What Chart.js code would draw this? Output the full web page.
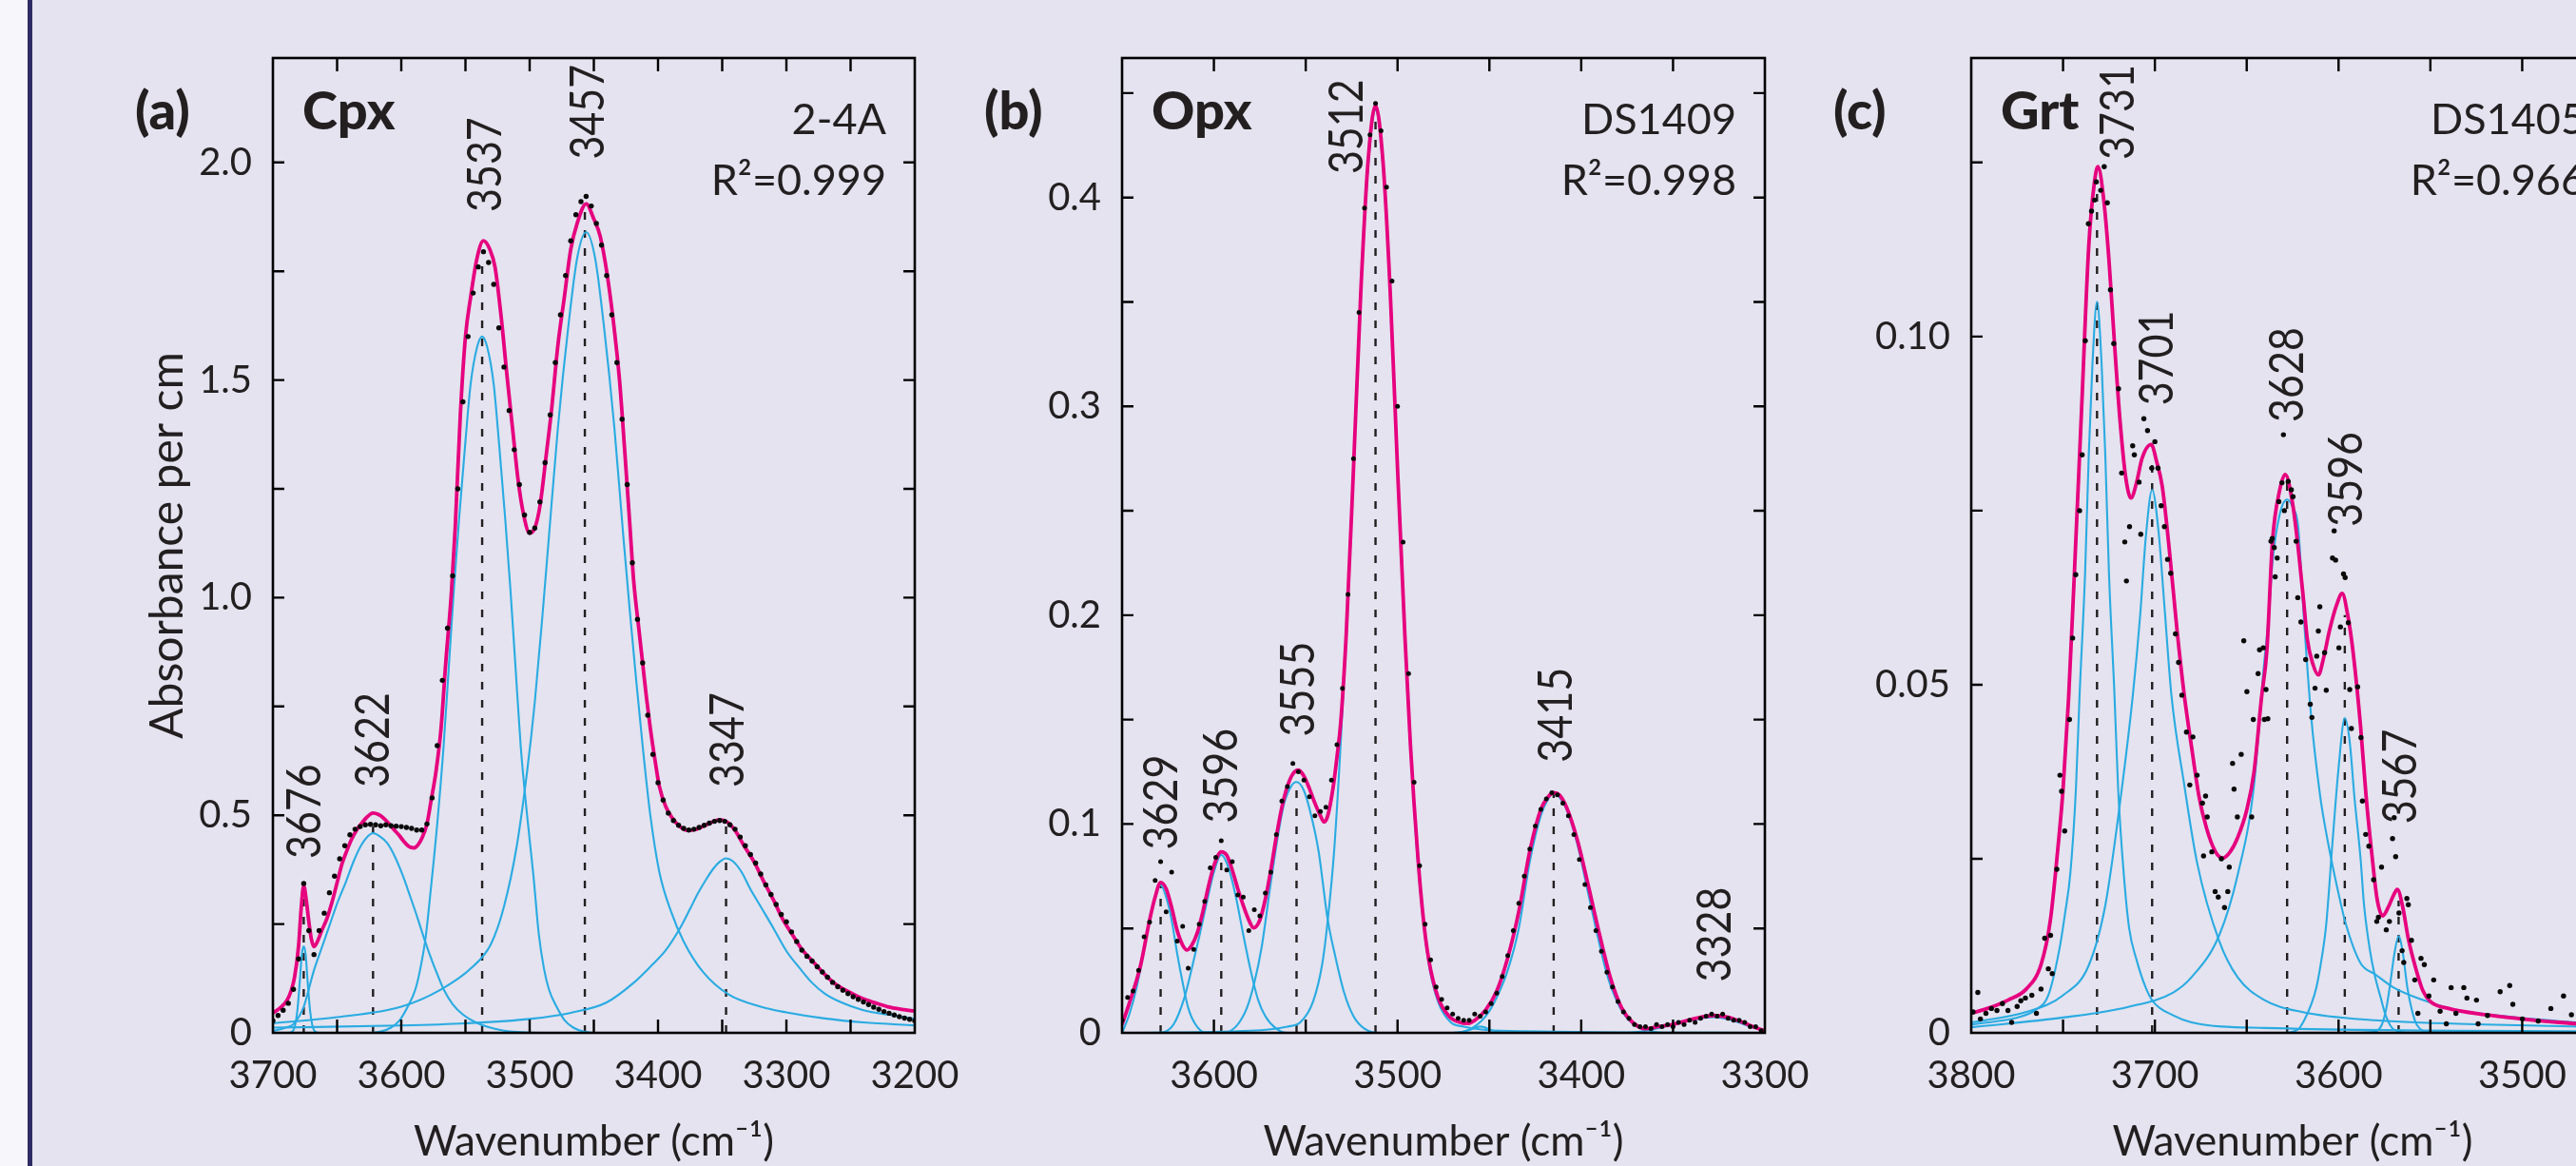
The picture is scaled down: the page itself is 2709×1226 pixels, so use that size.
<!DOCTYPE html>
<html>
<head>
<meta charset="utf-8">
<script src="https://cdn.jsdelivr.net/npm/chart.js@4.4.1/dist/chart.umd.min.js"></script>
<style>
html, body { margin: 0; padding: 0; }
body { width: 2709px; height: 1226px; overflow: hidden; position: relative; background: #e4e3ef; }
#strip { position: absolute; left: 0; top: 0; width: 29px; height: 1226px; background: #f7f7fb; }
#rule { position: absolute; left: 29px; top: 0; width: 5px; height: 1226px; background: #2f2b62; }
canvas { position: absolute; top: 0; }
</style>
</head>
<body>
<div id="strip"></div>
<div id="rule"></div>
<canvas id="cpxChart" width="955" height="1226" style="left:87px"></canvas>
<canvas id="opxChart" width="956" height="1226" style="left:980px"></canvas>
<canvas id="grtChart" width="956" height="1226" style="left:1873px"></canvas>
<script>
// ---------- (a) Cpx, sample 2-4A ----------
const cpxXTicks = [3700, 3600, 3500, 3400, 3300, 3200];
const cpxXMarks = [3650, 3600, 3550, 3500, 3450, 3400, 3350, 3300, 3250];
const cpxYTicks = [0, 0.5, 1.0, 1.5, 2.0];
const cpxYLabels = ['0', '0.5', '1.0', '1.5', '2.0'];
const cpxYMarks = [0.25, 0.5, 0.75, 1.0, 1.25, 1.5, 1.75, 2.0];

const cpxMeasured = [
  [3700,0.028],[3696,0.040],[3692,0.052],[3688,0.068],[3684,0.10],[3680,0.17],[3676,0.343],[3672,0.235],
  [3668,0.180],[3664,0.235],[3660,0.275],[3656,0.322],[3652,0.36],[3648,0.40],[3644,0.43],[3640,0.455],
  [3636,0.468],[3632,0.474],[3628,0.478],[3624,0.479],[3620,0.478],[3616,0.476],[3612,0.478],[3608,0.476],
  [3604,0.475],[3600,0.474],[3596,0.472],[3592,0.470],[3588,0.466],[3584,0.466],[3580,0.48],[3576,0.54],
  [3572,0.66],[3568,0.81],[3564,0.93],[3560,1.05],[3556,1.25],[3552,1.45],[3548,1.60],[3544,1.70],
  [3540,1.76],[3536,1.795],[3532,1.77],[3528,1.72],[3524,1.62],[3520,1.53],[3516,1.43],[3512,1.34],
  [3508,1.26],[3504,1.19],[3500,1.15],[3496,1.16],[3492,1.22],[3488,1.31],[3484,1.42],[3480,1.54],
  [3476,1.65],[3472,1.74],[3468,1.82],[3464,1.88],[3460,1.91],[3456,1.922],[3452,1.90],[3448,1.86],
  [3444,1.81],[3440,1.74],[3436,1.65],[3432,1.54],[3428,1.41],[3424,1.26],[3420,1.08],[3416,0.95],
  [3412,0.85],[3408,0.73],[3404,0.64],[3400,0.575],[3396,0.535],[3392,0.505],[3388,0.488],[3384,0.477],
  [3380,0.470],[3376,0.466],[3372,0.468],[3368,0.472],[3364,0.477],[3360,0.482],[3356,0.486],[3352,0.488],
  [3348,0.486],[3344,0.478],[3340,0.468],[3336,0.45],[3332,0.43],[3328,0.41],[3324,0.39],[3320,0.365],
  [3316,0.34],[3312,0.318],[3308,0.295],[3304,0.272],[3300,0.255],[3296,0.232],[3292,0.21],[3288,0.19],
  [3284,0.176],[3280,0.165],[3276,0.152],[3272,0.14],[3268,0.128],[3264,0.116],[3260,0.106],[3256,0.098],
  [3252,0.09],[3248,0.083],[3244,0.077],[3240,0.071],[3236,0.065],[3232,0.059],[3228,0.054],[3224,0.049],
  [3220,0.045],[3216,0.041],[3212,0.037],[3208,0.034],[3204,0.031],[3200,0.028]
];
const cpxFit = [
  [3700,0.046],[3694,0.058],[3689,0.075],[3686,0.095],[3683,0.13],[3680,0.20],[3678,0.285],[3676,0.338],
  [3674,0.305],[3672,0.255],[3670,0.215],[3668,0.198],[3665,0.212],[3662,0.235],[3658,0.262],[3654,0.30],
  [3650,0.345],[3646,0.39],[3643,0.414],[3639,0.443],[3635,0.465],[3631,0.481],[3627,0.495],[3622,0.505],
  [3618,0.502],[3614,0.494],[3610,0.482],[3606,0.468],[3602,0.455],[3598,0.44],[3594,0.428],[3590,0.425],
  [3587,0.432],[3584,0.447],[3580,0.48],[3577,0.53],[3573,0.60],[3569,0.70],[3565.5,0.845],[3561,1.01],
  [3558,1.16],[3554,1.42],[3550,1.60],[3546,1.69],[3541,1.78],[3536,1.82],[3531,1.80],[3527,1.76],
  [3522,1.64],[3518,1.52],[3513,1.38],[3509,1.27],[3505,1.195],[3500,1.148],[3496,1.16],[3492,1.21],
  [3487,1.33],[3483,1.43],[3478,1.58],[3473,1.69],[3468,1.80],[3463,1.86],[3456,1.905],[3450,1.87],
  [3445,1.83],[3440,1.75],[3435,1.64],[3430,1.50],[3426,1.34],[3422,1.17],[3419,1.04],[3415,0.93],
  [3412,0.85],[3409,0.77],[3406,0.70],[3402,0.62],[3399,0.567],[3394,0.52],[3389,0.494],[3383,0.474],
  [3377,0.465],[3370,0.468],[3364,0.476],[3358,0.484],[3352,0.49],[3346,0.484],[3340,0.465],[3333,0.43],
  [3325,0.392],[3318,0.35],[3310,0.305],[3303,0.262],[3295,0.224],[3288,0.192],[3280,0.166],[3272,0.14],
  [3263,0.115],[3252,0.095],[3241,0.079],[3230,0.068],[3221,0.060],[3210,0.054],[3200,0.050]
];
const cpx3676 = [[3700,0],[3688,0],[3684,0.006],[3681,0.05],[3679,0.12],[3677.5,0.18],[3676,0.199],[3674.5,0.18],[3673,0.12],[3671,0.05],[3668,0.006],[3664,0],[3200,0]];
const cpx3622 = [[3700,0.004],[3690,0.012],[3684,0.020],[3676,0.06],[3668,0.144],[3662,0.195],[3656,0.246],[3650,0.297],[3643,0.348],[3637,0.395],[3631,0.432],[3626,0.452],[3622,0.459],[3617,0.452],[3611,0.436],[3605,0.405],[3599,0.363],[3593,0.313],[3587,0.261],[3582,0.215],[3577,0.173],[3572,0.135],[3567,0.100],[3560,0.066],[3552,0.042],[3542,0.024],[3532,0.013],[3520,0.005],[3510,0.002],[3490,0],[3200,0]];
const cpx3537 = [[3700,0],[3624,0],[3616,0.003],[3608,0.012],[3601,0.03],[3595,0.06],[3589,0.10],[3585,0.15],[3581,0.22],[3577,0.33],[3572,0.48],[3567,0.66],[3563,0.84],[3559,1.02],[3555,1.18],[3550,1.36],[3546,1.49],[3541,1.575],[3537,1.60],[3533,1.575],[3528,1.49],[3524,1.36],[3519,1.18],[3515,1.02],[3511,0.84],[3507,0.66],[3502,0.50],[3497,0.36],[3493,0.23],[3489,0.15],[3485,0.10],[3479,0.06],[3473,0.03],[3466,0.012],[3458,0.003],[3450,0],[3200,0]];
const cpx3457 = [[3700,0.022],[3650,0.036],[3600,0.060],[3570,0.098],[3545,0.15],[3530,0.205],[3520,0.29],[3510,0.43],[3502,0.60],[3496,0.76],[3490,0.96],[3485,1.14],[3478,1.39],[3470,1.62],[3463,1.78],[3456,1.84],[3449,1.78],[3442,1.62],[3434,1.39],[3427,1.14],[3422,0.97],[3417,0.81],[3412,0.66],[3406,0.50],[3399,0.37],[3390,0.28],[3380,0.21],[3365,0.14],[3345,0.088],[3320,0.06],[3300,0.047],[3270,0.033],[3240,0.024],[3200,0.017]];
const cpx3347 = [[3700,0.012],[3600,0.017],[3550,0.022],[3500,0.032],[3468,0.046],[3440,0.07],[3419,0.115],[3405,0.155],[3394,0.19],[3383,0.24],[3375,0.285],[3369,0.32],[3362,0.355],[3357,0.377],[3352,0.393],[3347,0.401],[3342,0.395],[3335,0.37],[3328,0.33],[3320,0.29],[3310,0.24],[3300,0.188],[3290,0.15],[3280,0.115],[3270,0.09],[3258,0.071],[3240,0.052],[3221,0.042],[3200,0.032]];

const cpxPeakLabels = ['3676', '3622', '3537', '3457', '3347'];
const cpxLabelWn = [3676, 3622.4, 3535.7, 3455.6, 3346.7];
const cpxLabelBase = [0.40, 0.564, 1.886, 2.007, 0.564];
const cpxDashWn = [3676, 3622, 3537, 3457, 3347];
const cpxDashTop = [0.34, 0.48, 1.78, 1.90, 0.48];

// ---------- (b) Opx, sample DS1409 ----------
const opxXTicks = [3600, 3500, 3400, 3300];
const opxXMarks = [3600, 3550, 3500, 3450, 3400, 3350];
const opxYTicks = [0, 0.1, 0.2, 0.3, 0.4];
const opxYLabels = ['0', '0.1', '0.2', '0.3', '0.4'];
const opxYMarks = [0.05, 0.1, 0.15, 0.2, 0.25, 0.3, 0.35, 0.4, 0.45];

const opxMeasured = [
  [3650,0.006],[3647,0.017],[3644,0.020],[3641,0.030],[3638,0.046],[3635,0.053],[3632,0.073],[3629,0.082],
  [3626,0.058],[3623,0.077],[3620,0.044],[3617,0.051],[3614,0.031],[3611,0.040],[3608,0.052],[3605,0.063],
  [3602,0.079],[3599,0.084],[3596,0.092],[3593,0.078],[3590,0.082],[3587,0.066],[3584,0.065],[3581,0.049],
  [3578,0.059],[3575,0.056],[3572,0.067],[3569,0.077],[3566,0.095],[3563,0.111],[3560,0.118],[3557,0.129],
  [3554,0.125],[3551,0.121],[3548,0.113],[3545,0.104],[3542,0.106],[3539,0.108],[3536,0.121],[3533,0.138],
  [3530,0.165],[3527,0.21],[3524,0.275],[3521,0.345],[3518,0.395],[3515,0.43],[3512,0.445],[3509,0.432],
  [3506,0.405],[3503,0.36],[3500,0.30],[3497,0.235],[3494,0.172],[3491,0.12],[3488,0.08],[3485,0.052],
  [3482,0.035],[3479,0.022],[3476,0.016],[3473,0.012],[3470,0.009],[3467,0.007],[3464,0.006],[3461,0.006],
  [3458,0.009],[3455,0.008],[3452,0.010],[3449,0.014],[3446,0.019],[3443,0.027],[3440,0.037],[3437,0.049],
  [3434,0.062],[3431,0.075],[3428,0.088],[3425,0.099],[3422,0.107],[3419,0.112],[3416,0.115],[3413,0.114],
  [3410,0.110],[3407,0.104],[3404,0.095],[3401,0.083],[3398,0.071],[3395,0.060],[3392,0.049],[3389,0.039],
  [3386,0.029],[3383,0.022],[3380,0.015],[3377,0.010],[3374,0.007],[3371,0.004],[3368,0.003],[3365,0.003],
  [3362,0.002],[3359,0.004],[3356,0.003],[3353,0.004],[3350,0.003],[3347,0.005],[3344,0.004],[3341,0.006],
  [3338,0.005],[3335,0.007],[3332,0.008],[3329,0.009],[3326,0.008],[3323,0.009],[3320,0.007],[3317,0.006],
  [3314,0.006],[3311,0.005],[3308,0.003],[3305,0.003],[3302,0.001]
];
const opxFit = [
  [3650,0.004],[3645,0.017],[3640,0.032],[3635,0.054],[3632,0.065],[3629,0.072],[3626,0.069],[3623,0.060],
  [3620,0.049],[3617,0.042],[3614.6,0.0397],[3612,0.042],[3609,0.048],[3606,0.058],[3603,0.07],[3600,0.080],
  [3596,0.0867],[3593,0.085],[3590,0.078],[3587,0.069],[3584,0.061],[3581,0.054],[3578.4,0.0503],[3575,0.054],
  [3572,0.064],[3569,0.078],[3566,0.094],[3563,0.108],[3560,0.118],[3557,0.124],[3554,0.1258],[3551,0.123],
  [3548,0.117],[3545,0.11],[3542,0.104],[3540,0.101],[3538,0.104],[3535,0.118],[3533,0.132],[3531,0.148],
  [3528,0.19],[3524,0.27],[3520,0.355],[3516,0.418],[3512,0.444],[3508,0.418],[3504,0.355],[3500,0.27],
  [3496,0.19],[3493,0.138],[3489,0.085],[3486,0.055],[3483,0.035],[3478,0.017],[3472,0.008],[3466,0.005],
  [3462,0.0045],[3458,0.006],[3452,0.011],[3446,0.02],[3440,0.036],[3434,0.058],[3428,0.087],[3422,0.107],
  [3418,0.113],[3415,0.115],[3412,0.114],[3408,0.108],[3402,0.092],[3396,0.07],[3390,0.047],[3384,0.026],
  [3378,0.012],[3372,0.005],[3365,0.002],[3358,0.003],[3350,0.004],[3342,0.006],[3335,0.0075],[3328,0.0083],
  [3320,0.0075],[3312,0.005],[3305,0.0025],[3300,0.001]
];
const opx3629 = [[3650,0],[3646,0.009],[3642,0.022],[3638,0.04],[3635,0.054],[3632,0.065],[3629,0.0708],[3626,0.065],[3623,0.054],[3620,0.038],[3617,0.024],[3614,0.012],[3610,0.004],[3604,0],[3300,0]];
const opx3596 = [[3650,0],[3630,0],[3622,0.004],[3616,0.017],[3612,0.031],[3608,0.046],[3604,0.062],[3600,0.077],[3596,0.0852],[3592,0.079],[3588,0.065],[3584,0.047],[3580,0.030],[3576,0.016],[3572,0.008],[3566,0.002],[3560,0],[3300,0]];
const opx3555 = [[3650,0],[3595,0],[3588,0.003],[3582,0.012],[3578,0.024],[3574,0.041],[3569,0.072],[3565,0.095],[3562,0.109],[3558,0.118],[3555,0.1201],[3551,0.116],[3547,0.104],[3543,0.087],[3538,0.054],[3534,0.037],[3529,0.019],[3524,0.008],[3518,0.002],[3510,0],[3300,0]];
const opx3512 = [[3650,0],[3580,0.001],[3560,0.003],[3553,0.005],[3546,0.015],[3541,0.033],[3538,0.054],[3534.5,0.0875],[3531,0.138],[3528,0.19],[3524,0.27],[3520,0.355],[3516,0.415],[3512,0.442],[3508,0.415],[3504,0.355],[3500,0.27],[3496,0.19],[3493,0.138],[3489.5,0.0875],[3486,0.054],[3483,0.033],[3478,0.015],[3471,0.005],[3464,0.003],[3444,0.001],[3300,0]];
const opx3455 = [[3650,0],[3470,0],[3462,0.001],[3455,0.003],[3448,0.001],[3440,0],[3300,0]];
const opx3415 = [[3650,0],[3470,0],[3460,0.002],[3452,0.008],[3446,0.017],[3440,0.03],[3434,0.05],[3428,0.082],[3422,0.104],[3418,0.112],[3415,0.1151],[3412,0.113],[3408,0.107],[3402,0.09],[3396,0.066],[3392,0.05],[3386,0.028],[3380,0.014],[3374,0.006],[3366,0.002],[3355,0],[3300,0]];
const opx3328 = [[3650,0],[3375,0],[3362,0.0015],[3350,0.004],[3340,0.006],[3328,0.0075],[3318,0.006],[3308,0.003],[3300,0.001]];

const opxPeakLabels = ['3629', '3596', '3555', '3512', '3415', '3328'];
const opxLabelWn = [3629, 3596.4, 3554.8, 3528.3, 3414.2, 3327.6];
const opxLabelBase = [0.0877, 0.1004, 0.1419, 0.4112, 0.1295, 0.0244];
const opxDashWn = [3629, 3596, 3555, 3512, 3415];
const opxDashTop = [0.072, 0.085, 0.119, 0.442, 0.115];

// ---------- (c) Grt, sample DS1405 ----------
const grtXTicks = [3800, 3700, 3600, 3500];
const grtXMarks = [3750, 3700, 3650, 3600, 3550, 3500];
const grtYTicks = [0, 0.05, 0.10];
const grtYLabels = ['0', '0.05', '0.10'];
const grtYMarks = [0.025, 0.05, 0.075, 0.1, 0.125];

const grtMeasured = [
  [3799,0.0030],[3796.4,0.0058],[3795,0.0020],[3792,0.0028],[3789,0.0035],[3786,0.0032],[3783,0.0042],[3780,0.0032],
  [3778,0.0015],[3775,0.0038],[3773,0.0046],[3770.5,0.0050],[3767,0.0054],[3764.5,0.0028],[3762,0.0063],[3760,0.0136],
  [3758,0.0092],[3756.8,0.0140],[3755.9,0.0085],[3753.4,0.0235],[3751.7,0.0370],[3750.8,0.0347],[3749.1,0.0290],[3746.5,0.0450],
  [3744.8,0.0567],[3743.1,0.0658],[3741,0.075],[3739.6,0.0830],[3737.9,0.0994],[3736.2,0.1162],[3734.5,0.118],[3732.8,0.1196],
  [3731.9,0.1222],[3729.5,0.121],[3727.6,0.1244],[3725.9,0.1192],[3724.2,0.1067],[3722.4,0.0990],[3719.8,0.0925],[3718.1,0.0804],
  [3716.4,0.0705],[3715.5,0.0649],[3713.8,0.0727],[3712.1,0.0843],[3711.2,0.0830],[3708.6,0.0791],[3707.7,0.0716],[3706,0.0882],
  [3704,0.0865],[3701.7,0.0811],[3700,0.0849],[3698.3,0.0811],[3696.6,0.0757],[3694.8,0.0727],[3693.1,0.0680],[3691.4,0.0660],
  [3688.8,0.0573],[3687.1,0.0532],[3685.3,0.0485],[3682.8,0.0432],[3681,0.0356],[3679.3,0.0425],[3677,0.037],[3674.1,0.0330],
  [3673.5,0.0254],[3672.4,0.0340],[3671.5,0.0310],[3669,0.026],[3667.2,0.0203],[3665.5,0.0195],[3663.8,0.0250],[3662.1,0.0180],
  [3660.3,0.0203],[3659.5,0.0238],[3657.7,0.0387],[3656.9,0.0350],[3655.1,0.0310],[3653,0.040],[3651.6,0.0563],[3649.9,0.0490],
  [3647.3,0.0310],[3646.4,0.0450],[3643.8,0.0516],[3643,0.0550],[3641,0.0553],[3640.4,0.0450],[3639.5,0.0493],[3638.5,0.0451],
  [3636.8,0.0706],[3636.1,0.0710],[3635,0.0697],[3634.5,0.0655],[3633.4,0.0682],[3632.5,0.0763],[3630.8,0.0790],[3630,0.0859],
  [3629.5,0.075],[3627.4,0.0792],[3625.7,0.0780],[3624.8,0.0770],[3623.1,0.0706],[3622.2,0.0625],[3620.5,0.0590],[3617.9,0.0536],
  [3615.4,0.0472],[3614.5,0.0453],[3612.8,0.0495],[3611.9,0.0541],[3611,0.0577],[3610.2,0.0612],[3607.6,0.0546],[3606.7,0.0492],
  [3603.3,0.0682],[3602.4,0.0721],[3601.6,0.0679],[3599.8,0.0553],[3599,0.0583],[3597.3,0.0659],[3596.4,0.0654],[3594.7,0.0589],
  [3593.9,0.0493],[3593,0.0437],[3589.6,0.0497],[3587.8,0.0424],[3587,0.0333],[3585.2,0.0285],[3583.5,0.0268],[3580.9,0.0220],
  [3579.2,0.0160],[3578.3,0.0166],[3576.6,0.0238],[3574,0.0148],[3572.3,0.0160],[3570.6,0.0279],[3569.7,0.0309],[3568.9,0.0253],
  [3567.1,0.0172],[3565.4,0.0118],[3564.5,0.0101],[3562.8,0.0193],[3562,0.0184],[3560.3,0.0133],[3558.5,0.0076],[3556.8,0.0028],
  [3555.1,0.0107],[3553.3,0.0098],[3550.8,0.0053],[3548.2,0.0076],[3544.7,0.0031],[3541.3,0.0013],[3538.7,0.0065],[3536.1,0.0028],
  [3531.8,0.0065],[3530.1,0.0050],[3524.9,0.0047],[3524,0.0013],[3518.9,0.0025],[3512,0.0059],[3506.8,0.0068],[3505.1,0.0041],
  [3499.9,0.0020],[3491.3,0.0017],[3484.4,0.0035],[3477.5,0.0053],[3473.2,0.0026],[3468,0.0040],[3462,0.0015],[3456,0.0030],[3451,0.0022]
];
const grtFit = [
  [3800,0.0028],[3790,0.0036],[3780,0.0047],[3770,0.0063],[3762,0.0098],[3757,0.016],[3753,0.026],[3750,0.035],
  [3747,0.048],[3744,0.065],[3740,0.089],[3736,0.113],[3733,0.122],[3731,0.1244],[3728,0.120],[3725,0.111],
  [3722,0.099],[3719,0.088],[3716,0.080],[3713,0.0768],[3710,0.079],[3707,0.0825],[3702,0.0845],[3699,0.082],
  [3696,0.0785],[3692,0.069],[3688,0.058],[3684,0.0485],[3680,0.041],[3676,0.034],[3672,0.0295],[3667,0.026],
  [3663,0.0251],[3659,0.026],[3655,0.028],[3650,0.032],[3646,0.0375],[3642,0.048],[3639,0.055],[3636,0.0705],
  [3632,0.078],[3629,0.0802],[3625,0.076],[3622,0.0697],[3619,0.062],[3617,0.0565],[3614,0.053],[3611,0.0514],
  [3608,0.054],[3605,0.0577],[3601,0.0615],[3598,0.0631],[3595,0.060],[3592,0.0545],[3588,0.044],[3585,0.034],
  [3582,0.026],[3579,0.0192],[3576,0.0168],[3573,0.0180],[3570,0.0198],[3568,0.0206],[3565,0.018],[3562,0.0135],
  [3558,0.0093],[3554,0.006],[3550,0.0045],[3540,0.0035],[3520,0.0026],[3500,0.002],[3480,0.0015],[3450,0.001]
];
const grt3731 = [[3800,0.0012],[3785,0.0017],[3775,0.0022],[3765,0.0033],[3758,0.0054],[3752,0.012],[3749,0.017],[3746,0.023],[3743,0.035],[3741,0.0485],[3738,0.066],[3736,0.083],[3734,0.096],[3731.5,0.105],[3729,0.096],[3727,0.083],[3725,0.066],[3722,0.0485],[3720,0.035],[3717,0.023],[3714,0.015],[3710,0.0105],[3705,0.0065],[3701,0.0045],[3690,0.0025],[3680,0.0015],[3640,0.0007],[3450,0.0002]];
const grt3701 = [[3800,0.0015],[3770,0.003],[3750,0.0054],[3736,0.0097],[3727,0.0183],[3719,0.033],[3712,0.0485],[3708,0.06],[3705,0.071],[3701.5,0.078],[3698,0.072],[3695,0.062],[3691,0.0485],[3684,0.0356],[3677,0.0244],[3665,0.0132],[3655,0.008],[3641,0.0048],[3620,0.003],[3580,0.0018],[3520,0.0012],[3450,0.0008]];
const grt3628 = [[3800,0.0008],[3750,0.0022],[3715,0.0037],[3690,0.0058],[3680,0.008],[3665,0.014],[3655,0.0226],[3646,0.0356],[3641,0.0517],[3638,0.06],[3636,0.0675],[3632,0.0745],[3628,0.0766],[3625,0.0755],[3622,0.0727],[3619,0.0601],[3615,0.0457],[3610,0.034],[3606,0.0277],[3600,0.02],[3596,0.0156],[3588,0.01],[3580,0.0084],[3570,0.0065],[3555,0.0048],[3535,0.0032],[3520,0.0027],[3490,0.0019],[3471,0.0015],[3450,0.0012]];
const grt3596 = [[3800,0],[3630,0],[3622,0.0005],[3618.7,0.0018],[3615,0.004],[3612,0.0066],[3609,0.011],[3606.7,0.0156],[3603.2,0.0277],[3600,0.038],[3596.6,0.0452],[3594,0.042],[3591.3,0.0337],[3588,0.025],[3586.2,0.0186],[3583,0.012],[3580.4,0.0084],[3577,0.005],[3574.2,0.0024],[3570,0.0005],[3560,0],[3450,0]];
const grt3567 = [[3800,0],[3590,0],[3580,0.0002],[3576.4,0.0012],[3574,0.0035],[3572.1,0.0066],[3569.5,0.0115],[3567.3,0.0139],[3565,0.0115],[3562.6,0.0066],[3560,0.0032],[3557.5,0.0012],[3550,0.0001],[3540,0],[3450,0]];

const grtPeakLabels = ['3731', '3701', '3628', '3596', '3567'];
const grtLabelWn = [3720.5, 3699.2, 3628.3, 3596.2, 3567];
const grtLabelBase = [0.1254, 0.0901, 0.0877, 0.0727, 0.030];
const grtDashWn = [3731.5, 3701.5, 3628, 3596.6, 3567.3];
const grtDashTop = [0.122, 0.083, 0.079, 0.060, 0.019];

// ---------- drawing ----------
const INK = '#231f20';
const MAGENTA = '#e6007e';
const CYAN = '#29abe2';
Chart.defaults.font.family = 'Lato, "Open Sans", sans-serif';
Chart.defaults.color = INK;

const toXY = pts => pts.map(p => ({ x: p[0], y: p[1] }));

function decor(p) {
  return {
    id: 'decor',
    beforeDatasetsDraw(chart) {
      const { ctx, scales: { x, y } } = chart;
      ctx.save();
      ctx.strokeStyle = INK;
      ctx.lineWidth = 2.4;
      ctx.setLineDash([8, 11]);
      p.dashWn.forEach((wn, i) => {
        const px = x.getPixelForValue(wn);
        ctx.beginPath();
        ctx.moveTo(px, y.getPixelForValue(0));
        ctx.lineTo(px, y.getPixelForValue(p.dashTop[i]));
        ctx.stroke();
      });
      ctx.restore();
    },
    afterDatasetsDraw(chart) {
      const { ctx, chartArea: a, scales: { x, y } } = chart;
      ctx.save();
      ctx.strokeStyle = '#000';
      ctx.lineWidth = 2.6;
      ctx.strokeRect(a.left, a.top, a.right - a.left, a.bottom - a.top);
      // inward ticks on all four sides
      ctx.lineWidth = 2.4;
      ctx.beginPath();
      p.xMarks.forEach(v => {
        const px = x.getPixelForValue(v);
        if (px <= a.left + 2 || px >= a.right - 2) return;
        ctx.moveTo(px, a.bottom); ctx.lineTo(px, a.bottom - 14);
        ctx.moveTo(px, a.top); ctx.lineTo(px, a.top + 14);
      });
      p.yMarks.forEach(v => {
        const py = y.getPixelForValue(v);
        if (py <= a.top + 2 || py >= a.bottom - 2) return;
        ctx.moveTo(a.left, py); ctx.lineTo(a.left + 12, py);
        ctx.moveTo(a.right, py); ctx.lineTo(a.right - 12, py);
      });
      ctx.stroke();

      // band positions, rotated
      ctx.fillStyle = INK;
      ctx.font = '43px Lato';
      ctx.textAlign = 'left';
      ctx.textBaseline = 'alphabetic';
      p.peakLabels.forEach((t, i) => {
        ctx.save();
        ctx.translate(x.getPixelForValue(p.labelWn[i]), y.getPixelForValue(p.labelBase[i]));
        ctx.rotate(-Math.PI / 2);
        ctx.scale(1, 1.15);
        ctx.fillText(t, 0, 15.4);
        ctx.restore();
      });

      ctx.font = '900 56px Lato';
      ctx.fillText(p.letter, a.left - 145, 136);
      ctx.fillText(p.mineral, a.left + 31, 136);
      ctx.font = '45px Lato';
      ctx.textAlign = 'right';
      ctx.fillText(p.sample, a.right - 30, 141);
      ctx.fillText(p.r2, a.right - 30, 205);
      ctx.restore();
    }
  };
}

function panel(p) {
  const datasets = [{
    label: 'measured',
    data: toXY(p.measured),
    showLine: false,
    pointRadius: p.dot,
    pointBackgroundColor: '#0a0a0a',
    pointBorderWidth: 0,
    order: 1
  }, {
    label: 'fit',
    data: toXY(p.fit),
    borderColor: MAGENTA,
    borderWidth: 3.8,
    pointRadius: 0,
    cubicInterpolationMode: 'monotone',
    order: 2
  }];
  p.bands.forEach((b, i) => datasets.push({
    label: 'band ' + p.bandNames[i],
    data: toXY(b),
    borderColor: CYAN,
    borderWidth: 2.1,
    pointRadius: 0,
    cubicInterpolationMode: 'monotone',
    order: 3
  }));

  new Chart(document.getElementById(p.canvas), {
    type: 'line',
    data: { datasets },
    options: {
      animation: false,
      responsive: false,
      devicePixelRatio: 1,
      layout: { padding: { top: 61, right: 80, left: 0, bottom: 0 } },
      plugins: { legend: { display: false }, tooltip: { enabled: false } },
      scales: {
        x: {
          type: 'linear',
          reverse: true,
          min: p.xMin,
          max: p.xMax,
          grid: { display: false, drawTicks: false },
          border: { display: false },
          afterBuildTicks: s => { s.ticks = p.xTicks.map(v => ({ value: v })); },
          afterFit: s => { s.height = 140; s.paddingLeft = 0; s.paddingRight = 0; },
          ticks: {
            autoSkip: false, maxRotation: 0, minRotation: 0, padding: 21,
            font: { size: 40 }, color: INK,
            callback: v => String(v)
          },
          title: {
            display: true, text: 'Wavenumber (cm⁻¹)', color: INK,
            font: { size: 44, lineHeight: 1 }, padding: { top: 0, bottom: 3 }
          }
        },
        y: {
          min: 0,
          max: p.yMax,
          grid: { display: false, drawTicks: false },
          border: { display: false },
          afterBuildTicks: s => { s.ticks = p.yTicks.map(v => ({ value: v })); },
          afterFit: s => { s.width = 200; s.paddingTop = 0; s.paddingBottom = 0; },
          ticks: {
            autoSkip: false, padding: 22, font: { size: 40 }, color: INK,
            callback: (v, i) => p.yLabels[i]
          },
          title: {
            display: !!p.yTitle, text: p.yTitle || '', color: INK,
            font: { size: 48, lineHeight: 1 }, padding: { top: 66, bottom: 0 }
          }
        }
      }
    },
    plugins: [decor(p)]
  });
}

panel({
  canvas: 'cpxChart', letter: '(a)', mineral: 'Cpx', sample: '2-4A', r2: 'R²=0.999',
  xMin: 3200, xMax: 3700, yMax: 2.24, yTitle: 'Absorbance per cm', dot: 2.7,
  xTicks: cpxXTicks, xMarks: cpxXMarks, yTicks: cpxYTicks, yLabels: cpxYLabels, yMarks: cpxYMarks,
  measured: cpxMeasured, fit: cpxFit,
  bands: [cpx3676, cpx3622, cpx3537, cpx3457, cpx3347],
  bandNames: ['3676', '3622', '3537', '3457', '3347'],
  peakLabels: cpxPeakLabels, labelWn: cpxLabelWn, labelBase: cpxLabelBase,
  dashWn: cpxDashWn, dashTop: cpxDashTop
});

panel({
  canvas: 'opxChart', letter: '(b)', mineral: 'Opx', sample: 'DS1409', r2: 'R²=0.998',
  xMin: 3300, xMax: 3650, yMax: 0.4668, dot: 2.5,
  xTicks: opxXTicks, xMarks: opxXMarks, yTicks: opxYTicks, yLabels: opxYLabels, yMarks: opxYMarks,
  measured: opxMeasured, fit: opxFit,
  bands: [opx3629, opx3596, opx3555, opx3512, opx3455, opx3415, opx3328],
  bandNames: ['3629', '3596', '3555', '3512', '3455', '3415', '3328'],
  peakLabels: opxPeakLabels, labelWn: opxLabelWn, labelBase: opxLabelBase,
  dashWn: opxDashWn, dashTop: opxDashTop
});

panel({
  canvas: 'grtChart', letter: '(c)', mineral: 'Grt', sample: 'DS1405', r2: 'R²=0.966',
  xMin: 3450, xMax: 3800, yMax: 0.14, dot: 2.7,
  xTicks: grtXTicks, xMarks: grtXMarks, yTicks: grtYTicks, yLabels: grtYLabels, yMarks: grtYMarks,
  measured: grtMeasured, fit: grtFit,
  bands: [grt3731, grt3701, grt3628, grt3596, grt3567],
  bandNames: ['3731', '3701', '3628', '3596', '3567'],
  peakLabels: grtPeakLabels, labelWn: grtLabelWn, labelBase: grtLabelBase,
  dashWn: grtDashWn, dashTop: grtDashTop
});
</script>
</body>
</html>
